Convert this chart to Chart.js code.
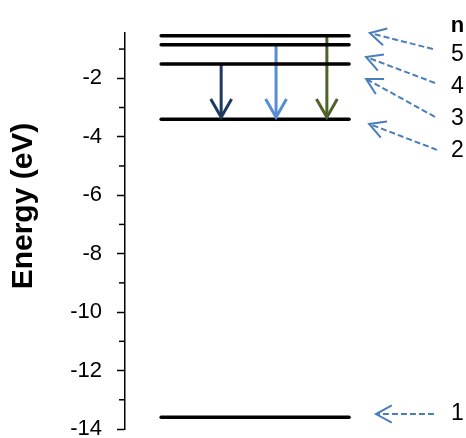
<!DOCTYPE html>
<html>
<head>
<meta charset="utf-8">
<script src="https://cdn.jsdelivr.net/npm/chart.js@4/dist/chart.umd.min.js"></script>
<style>
  html, body { margin: 0; padding: 0; background: #fff; }
  #wrap { width: 466px; height: 438px; }
</style>
</head>
<body>
<div id="wrap"><canvas id="levels"></canvas></div>
<script>
// Hydrogen energy levels (eV), n = 1..5
const levelN = [1, 2, 3, 4, 5];
const levelEnergy = [-13.6, -3.4, -1.51, -0.85, -0.54];
const levelX = [10.6, 65.7];

// Transitions down to n = 2
const transFrom = [3, 4, 5];
const transTo = [2, 2, 2];
const transX = [28.2, 44.3, 59.2];
const transColors = ['#1f3a60', '#558ed5', '#4f6228'];

// Right-hand labels and dashed pointers
const labelText = ['n', '5', '4', '3', '2', '1'];
const labelY = [-0.2, -1.2, -2.3, -3.39, -4.49, -13.49];
const labelX = 97.5;
const pointerStart = [null, [90.3, -1.0], [90.9, -2.16], [90.9, -3.32], [91.5, -4.45], [90.6, -13.49]];
const pointerTip = [null, [71.8, -0.45], [70.7, -1.27], [70.7, -2.02], [71.6, -3.56], [73.6, -13.49]];

const yMin = -14;
const yMax = -0.45;
const minorTicks = [-13, -11, -9, -7, -5, -3, -1];

const energyOf = n => levelEnergy[levelN.indexOf(n)];

const datasets = [];
levelEnergy.forEach(e => {
    datasets.push({
        data: [{ x: levelX[0], y: e }, { x: levelX[1], y: e }],
        borderColor: '#000',
        borderWidth: 3.5,
        pointRadius: 0,
        showLine: true,
        borderCapStyle: 'round'
    });
});
transFrom.forEach((n, i) => {
    datasets.push({
        data: [{ x: transX[i], y: energyOf(n) }, { x: transX[i], y: energyOf(transTo[i]) + 0.07 }],
        borderColor: transColors[i],
        borderWidth: 3,
        pointRadius: 0,
        showLine: true,
        isArrow: true
    });
});

function chevron(ctx, tx, ty, angle, len, spread) {
    ctx.beginPath();
    ctx.moveTo(tx + len * Math.cos(angle - spread), ty + len * Math.sin(angle - spread));
    ctx.lineTo(tx, ty);
    ctx.lineTo(tx + len * Math.cos(angle + spread), ty + len * Math.sin(angle + spread));
    ctx.stroke();
}

const extras = {
    id: 'extras',
    afterDraw(chart) {
        const ctx = chart.ctx;
        const xs = chart.scales.x, ys = chart.scales.y;
        const area = chart.chartArea;
        ctx.save();

        // minor ticks
        ctx.strokeStyle = '#000';
        ctx.lineWidth = 1.5;
        minorTicks.forEach(v => {
            const py = ys.getPixelForValue(v);
            ctx.beginPath();
            ctx.moveTo(area.left - 6, py);
            ctx.lineTo(area.left, py);
            ctx.stroke();
        });

        // arrowheads on transitions
        ctx.lineWidth = 3;
        ctx.lineCap = 'butt';
        ctx.lineJoin = 'miter';
        chart.data.datasets.forEach(ds => {
            if (!ds.isArrow) return;
            const p = ds.data[1];
            ctx.strokeStyle = ds.borderColor;
            chevron(ctx, xs.getPixelForValue(p.x), ys.getPixelForValue(p.y), -Math.PI / 2, 21, 0.52);
        });

        // dashed pointers
        ctx.strokeStyle = '#4a7ebb';
        ctx.lineWidth = 2;
        pointerStart.forEach((s, i) => {
            if (!s) return;
            const t = pointerTip[i];
            const sx = xs.getPixelForValue(s[0]), sy = ys.getPixelForValue(s[1]);
            const tx = xs.getPixelForValue(t[0]), ty = ys.getPixelForValue(t[1]);
            ctx.setLineDash([6, 3]);
            ctx.beginPath();
            ctx.moveTo(sx, sy);
            ctx.lineTo(tx, ty);
            ctx.stroke();
            ctx.setLineDash([]);
            chevron(ctx, tx, ty, Math.atan2(sy - ty, sx - tx), 18, 0.5);
        });

        // labels
        ctx.fillStyle = '#000';
        ctx.textAlign = 'center';
        ctx.textBaseline = 'middle';
        labelText.forEach((t, i) => {
            ctx.font = (t === 'n' ? 'bold 22px' : '23px') + ' "Liberation Sans", Arial, sans-serif';
            ctx.fillText(t, xs.getPixelForValue(labelX), ys.getPixelForValue(labelY[i]));
        });

        // axis title
        ctx.font = 'bold 30px "Liberation Sans", Arial, sans-serif';
        ctx.translate(24, 206);
        ctx.rotate(-Math.PI / 2);
        ctx.fillText('Energy (eV)', 0, 0);
        ctx.restore();
    }
};

new Chart(document.getElementById('levels'), {
    type: 'scatter',
    data: { datasets: datasets },
    options: {
        responsive: true,
        maintainAspectRatio: false,
        animation: false,
        layout: { padding: { top: 33, right: 0, bottom: 9, left: 0 } },
        plugins: { legend: { display: false }, tooltip: { enabled: false } },
        scales: {
            x: { type: 'linear', min: 0, max: 100, display: false },
            y: {
                type: 'linear',
                min: yMin,
                max: yMax,
                afterFit: scale => {
                    scale.width = 125;
                    scale.paddingTop = 0;
                    scale.paddingBottom = 0;
                },
                ticks: {
                    stepSize: 2,
                    includeBounds: false,
                    color: '#000',
                    padding: 15,
                    font: { family: '"Liberation Sans", Arial, sans-serif', size: 22 }
                },
                grid: {
                    drawOnChartArea: false,
                    drawTicks: true,
                    tickLength: 8,
                    tickColor: '#000',
                    tickWidth: 1.5
                },
                border: { display: true, color: '#000', width: 1.5 }
            }
        }
    },
    plugins: [extras]
});
</script>
</body>
</html>
